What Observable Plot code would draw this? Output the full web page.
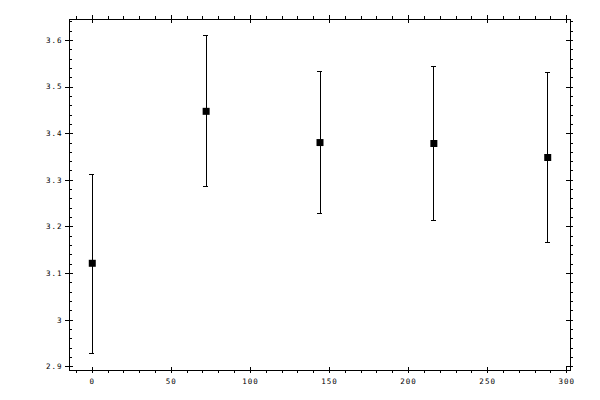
<!DOCTYPE html>
<html><head><meta charset="utf-8">
<script src="https://cdn.jsdelivr.net/npm/d3@7"></script>
<script src="https://cdn.jsdelivr.net/npm/@observablehq/plot@0.6"></script>
<style>
body{margin:0;background:#fff}
svg line, svg path.frame, svg rect{shape-rendering:crispEdges}
svg text{letter-spacing:1px}
</style>
</head><body><div id="chart"></div>
<script>
// data
const xs = [0, 72, 144, 216, 288];
const ys = [3.122, 3.448, 3.381, 3.379, 3.349];
const upper = [3.313, 3.611, 3.534, 3.544, 3.532];
const lower = [2.929, 3.287, 3.229, 3.214, 3.166];

// axis ticks
const xMajor = [0, 50, 100, 150, 200, 250, 300];
const xMinor = d3.range(-10, 301, 10).filter(v => v % 50 !== 0);
const yMajor = [2.9, 3.0, 3.1, 3.2, 3.3, 3.4, 3.5, 3.6];
const yMinor = d3.range(0, 38).map(i => +(2.9 + i * 0.02).toFixed(2)).filter(v => Math.round(v * 100) % 10 !== 0);
const yLabels = ["2.9", "3", "3.1", "3.2", "3.3", "3.4", "3.5", "3.6"];
const xLabels = ["0", "50", "100", "150", "200", "250", "300"];

const data = xs.map((x, i) => ({x, y: ys[i], hi: upper[i], lo: lower[i]}));

const W = 600, H = 400, mL = 69, mR = 30, mT = 19, mB = 30;
const fw = W - mL - mR, fh = H - mT - mB;
const font = {fontFamily: "DejaVu Sans Mono", fontSize: 7.5, fill: "black"};

const chart = Plot.plot({
  width: W, height: H,
  marginLeft: mL, marginRight: mR, marginTop: mT, marginBottom: mB,
  x: {domain: [-14.4, 302.4], axis: null},
  y: {domain: [2.892, 3.645], axis: null},
  style: {background: "white", overflow: "visible"},
  marks: [
    Plot.frame({stroke: "black", strokeWidth: 1}),
    // bottom axis ticks
    Plot.ruleX(xMajor, {x: d => d, insetTop: fh - 3, insetBottom: -3, stroke: "black"}),
    Plot.ruleX(xMinor, {x: d => d, insetTop: fh, insetBottom: -3, stroke: "black"}),
    // top axis ticks
    Plot.ruleX(xMajor, {x: d => d, insetTop: -4, insetBottom: fh - 4, stroke: "black"}),
    Plot.ruleX(xMinor, {x: d => d, insetTop: -3, insetBottom: fh, stroke: "black"}),
    // left axis ticks
    Plot.ruleY(yMajor, {y: d => d, insetLeft: -4, insetRight: fw - 4, stroke: "black"}),
    Plot.ruleY(yMinor, {y: d => d, insetLeft: 0, insetRight: fw - 3, stroke: "black"}),
    // right axis ticks
    Plot.ruleY(yMajor, {y: d => d, insetLeft: fw - 4, insetRight: -3, stroke: "black"}),
    Plot.ruleY(yMinor, {y: d => d, insetLeft: fw, insetRight: -3, stroke: "black"}),
    // tick labels
    Plot.text(xMajor, {x: d => d, text: (d, i) => xLabels[i], frameAnchor: "bottom", dy: 11, lineAnchor: "middle", textAnchor: "middle", ...font}),
    Plot.text(yMajor, {y: d => d, text: (d, i) => yLabels[i], frameAnchor: "left", dx: -7, lineAnchor: "middle", textAnchor: "end", ...font}),
    // error bars
    Plot.ruleX(data, {x: "x", y1: "lo", y2: "hi", stroke: "black", strokeWidth: 1}),
    Plot.ruleY(data, {y: "hi", x1: "x", x2: "x", insetLeft: -2.5, insetRight: -2.5, stroke: "black"}),
    Plot.ruleY(data, {y: "lo", x1: "x", x2: "x", insetLeft: -2.5, insetRight: -2.5, stroke: "black"}),
    // markers
    Plot.dot(data, {x: "x", y: "y", symbol: "square", r: 3.95, fill: "black", stroke: "none"})
  ]
});
document.getElementById("chart").appendChild(chart);
</script>
</body></html>
